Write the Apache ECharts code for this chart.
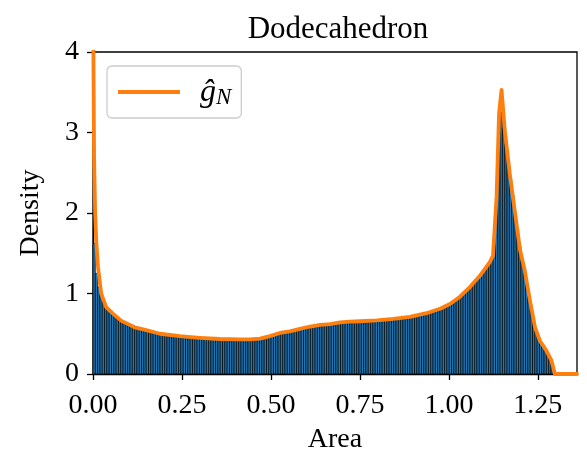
<!DOCTYPE html>
<html>
<head>
<meta charset="utf-8">
<script src="https://cdn.jsdelivr.net/npm/echarts@6/dist/echarts.min.js"></script>
<style>html,body{margin:0;padding:0;background:#fff;}#c{width:587px;height:456px;}</style>
</head>
<body>
<div id="c"></div>
<script>
const titleText = 'Dodecahedron';
const xName = 'Area';
const yName = 'Density';
const xTicks = [0, 0.25, 0.5, 0.75, 1.0, 1.25];
const yTicks = [0, 1, 2, 3, 4];
const binWidth = 0.0065;
// histogram densities, one per bin starting at 0
const histDensity = [
  1.62, 1.25, 1.08, 0.99, 0.90, 0.84, 0.80, 0.77, 0.745, 0.72,
  0.70, 0.68, 0.66, 0.645, 0.63, 0.62, 0.605, 0.595, 0.585, 0.575,
  0.57, 0.56, 0.55, 0.535, 0.53, 0.52, 0.515, 0.51, 0.50, 0.50,
  0.495, 0.49, 0.49, 0.485, 0.48, 0.48, 0.475, 0.47, 0.47, 0.465,
  0.465, 0.46, 0.46, 0.455, 0.455, 0.45, 0.45, 0.445, 0.445, 0.44,
  0.44, 0.44, 0.435, 0.435, 0.43, 0.43, 0.43, 0.43, 0.425, 0.43,
  0.425, 0.43, 0.43, 0.425, 0.43, 0.43, 0.43, 0.43, 0.43, 0.435,
  0.435, 0.44, 0.445, 0.45, 0.46, 0.465, 0.47, 0.48, 0.49, 0.50,
  0.505, 0.51, 0.515, 0.52, 0.525, 0.535, 0.54, 0.55, 0.555, 0.56,
  0.565, 0.575, 0.58, 0.585, 0.59, 0.60, 0.60, 0.605, 0.61, 0.61,
  0.615, 0.62, 0.62, 0.625, 0.63, 0.635, 0.635, 0.64, 0.64, 0.645,
  0.645, 0.65, 0.65, 0.65, 0.655, 0.655, 0.655, 0.66, 0.66, 0.665,
  0.665, 0.665, 0.67, 0.67, 0.675, 0.675, 0.68, 0.68, 0.685, 0.685,
  0.69, 0.69, 0.695, 0.70, 0.70, 0.705, 0.71, 0.715, 0.72, 0.725,
  0.73, 0.735, 0.745, 0.75, 0.76, 0.765, 0.775, 0.785, 0.795, 0.805,
  0.815, 0.83, 0.845, 0.86, 0.875, 0.89, 0.91, 0.93, 0.955, 0.98,
  1.00, 1.03, 1.06, 1.09, 1.12, 1.15, 1.19, 1.22, 1.26, 1.30,
  1.34, 1.39, 1.44, 1.60, 2.10, 3.00, 3.25, 3.05, 2.85, 2.62,
  2.42, 2.22, 2.00, 1.80, 1.58, 1.40, 1.25, 1.10, 0.95, 0.80,
  0.65, 0.55, 0.47, 0.40, 0.35, 0.30, 0.26, 0.21, 0.12
];
// kernel density estimate curve
const kdeX = [0, 0.003, 0.006, 0.009, 0.014, 0.023, 0.037, 0.056, 0.08, 0.117,
  0.15, 0.188, 0.244, 0.30, 0.357, 0.413, 0.441, 0.469, 0.497, 0.525,
  0.553, 0.581, 0.61, 0.638, 0.666, 0.694, 0.722, 0.75, 0.797, 0.844,
  0.89, 0.937, 0.975, 1.003, 1.031, 1.059, 1.087, 1.115, 1.124, 1.134,
  1.141, 1.148, 1.157, 1.171, 1.185, 1.2, 1.213, 1.228, 1.242, 1.256,
  1.274, 1.288, 1.298, 1.36];
const kdeY = [4.8, 2.7, 2.0, 1.66, 1.33, 1.0, 0.83, 0.75, 0.66, 0.58,
  0.545, 0.50, 0.47, 0.45, 0.435, 0.43, 0.43, 0.44, 0.47, 0.51,
  0.53, 0.56, 0.59, 0.61, 0.62, 0.64, 0.65, 0.655, 0.665, 0.685,
  0.71, 0.755, 0.81, 0.87, 0.96, 1.08, 1.22, 1.39, 1.47, 2.2,
  3.24, 3.53, 3.03, 2.49, 2.03, 1.54, 1.29, 0.91, 0.58, 0.41,
  0.29, 0.17, 0.0, 0.0];

const FONT = '"Liberation Serif", "Times New Roman", serif';
const histData = histDensity.map((v, i) => [i * binWidth, (i + 1) * binWidth, v]);
const kdeData = kdeX.map((x, i) => [x, kdeY[i]]);

const chart = echarts.init(document.getElementById('c'), null, {renderer: 'canvas'});
chart.setOption({
  animation: false,
  backgroundColor: '#ffffff',
  title: {
    text: titleText,
    left: 333, top: 9, textAlign: 'center',
    textStyle: {fontFamily: FONT, fontSize: 31, fontWeight: 'normal', color: '#000'}
  },
  grid: {left: 93, right: 10, top: 52, bottom: 82, containLabel: false, outerBoundsMode: 'none',
    show: true, borderColor: '#000', borderWidth: 1.3, backgroundColor: 'transparent'},
  legend: {
    left: 107, top: 66,
    orient: 'horizontal',
    data: [{name: 'kde', icon: 'rect'}],
    itemWidth: 62, itemHeight: 4,
    padding: [8, 10, 9, 11],
    backgroundColor: 'rgba(255,255,255,0.8)',
    borderColor: '#cccccc', borderWidth: 1.3, borderRadius: 5,
    formatter: () => '{g|ĝ}{n|N}',
    textStyle: {
      fontFamily: FONT, color: '#000',
      rich: {
        g: {fontFamily: FONT, fontStyle: 'italic', fontSize: 32, padding: [0, 0, 0, 15], verticalAlign: 'bottom', lineHeight: 34},
        n: {fontFamily: FONT, fontStyle: 'italic', fontSize: 23, verticalAlign: 'bottom', lineHeight: 22, padding: [12, 0, 0, 0]}
      }
    }
  },
  xAxis: {
    type: 'value', min: 0, max: 1.36, interval: 0.25,
    name: xName, nameLocation: 'middle', nameGap: 52,
    nameTextStyle: {fontFamily: FONT, fontSize: 28, color: '#000'},
    axisLine: {show: true, lineStyle: {color: '#000', width: 1.3}},
    axisTick: {show: true, length: 6, lineStyle: {color: '#000', width: 1.3}},
    axisLabel: {fontFamily: FONT, fontSize: 28, color: '#000', margin: 18, showMaxLabel: false,
      formatter: v => (xTicks.some(t => Math.abs(t - v) < 1e-9) ? v.toFixed(2) : '')},
    splitLine: {show: false}
  },
  yAxis: {
    type: 'value', min: 0, max: 4, interval: 1,
    name: yName, nameLocation: 'middle', nameGap: 48, nameRotate: 90,
    nameTextStyle: {fontFamily: FONT, fontSize: 28, color: '#000'},
    axisLine: {show: true, lineStyle: {color: '#000', width: 1.3}},
    axisTick: {show: true, length: 6, lineStyle: {color: '#000', width: 1.3}},
    axisLabel: {fontFamily: FONT, fontSize: 28, color: '#000', margin: 14,
      formatter: v => (yTicks.indexOf(v) >= 0 ? String(v) : '')},
    splitLine: {show: false}
  },
  series: [
    {
      type: 'custom',
      name: 'hist',
      data: histData,
      z: 2,
      renderItem: function (params, api) {
        const p0 = api.coord([api.value(0), api.value(2)]);
        const p1 = api.coord([api.value(1), 0]);
        return {
          type: 'rect',
          shape: {x: p0[0], y: p0[1], width: p1[0] - p0[0], height: p1[1] - p0[1]},
          style: {fill: '#1f77b4', stroke: '#000', lineWidth: 0.7}
        };
      }
    },
    {
      type: 'line',
      name: 'kde',
      data: kdeData,
      z: 5,
      showSymbol: false,
      symbol: 'none',
      smooth: false,
      clip: true,
      color: '#ff7f0e',
      lineStyle: {color: '#ff7f0e', width: 3.8, join: 'round', cap: 'round'}
    }
  ]
});
</script>
</body>
</html>
